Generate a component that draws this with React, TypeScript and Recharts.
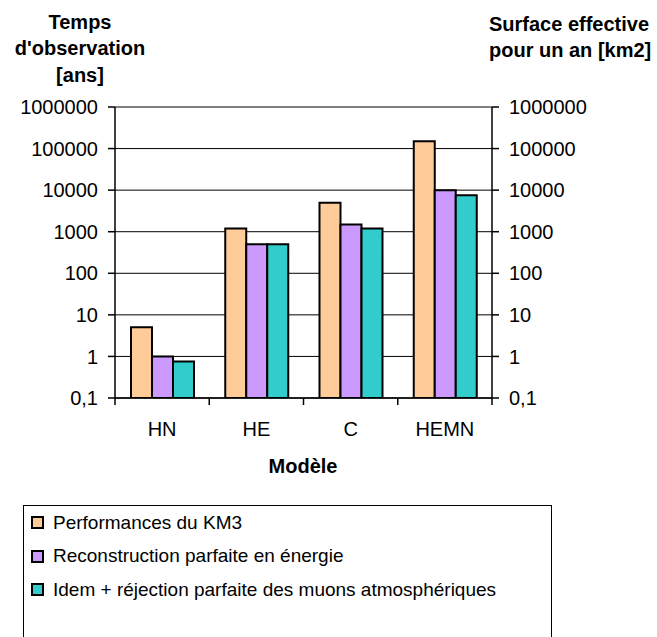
import React from "react";
import {
  BarChart,
  Bar,
  XAxis,
  YAxis,
  CartesianGrid,
  ReferenceLine,
  Legend,
} from "recharts";

const categories = ["HN", "HE", "C", "HEMN"];
const performances = [5, 1200, 5000, 150000];
const reconstruction = [1, 500, 1500, 10000];
const rejection = [0.75, 500, 1200, 7500];
const yTicks = [0.1, 1, 10, 100, 1000, 10000, 100000, 1000000];

const seriesNames = [
  "Performances du KM3",
  "Reconstruction parfaite en énergie",
  "Idem + réjection parfaite des muons atmosphériques",
];
const seriesColors = ["#FFCC99", "#CC99FF", "#33CCCC"];

const data = categories.map((name, i) => ({
  name,
  perf: performances[i],
  reco: reconstruction[i],
  rej: rejection[i],
}));

const FONT = '"Liberation Sans", Arial, sans-serif';
const PLOT_LEFT = 115;
const PLOT_RIGHT = 492;
const BAND = (PLOT_RIGHT - PLOT_LEFT) / categories.length;

const fmt = (v: number) => (v < 1 ? String(v).replace(".", ",") : String(v));

// category label plus the tick marks on the band boundaries
function CategoryTick(props: any) {
  const { x, y, payload, index } = props;
  const half = BAND / 2;
  const last = index === categories.length - 1;
  return (
    <g>
      <line x1={x - half} x2={x - half} y1={y} y2={y + 7} stroke="#000" strokeWidth={1.5} />
      {last && <line x1={x + half} x2={x + half} y1={y} y2={y + 7} stroke="#000" strokeWidth={1.5} />}
      <text x={x} y={y + 38} textAnchor="middle" fontSize={20} fill="#000" fontFamily={FONT}>
        {payload.value}
      </text>
    </g>
  );
}

function LegendBox() {
  return (
    <div
      style={{
        width: 529,
        height: 145,
        border: "1px solid #000",
        boxSizing: "border-box",
        background: "#fff",
        fontFamily: FONT,
        fontSize: 19,
        color: "#000",
      }}
    >
      {seriesNames.map((n, i) => (
        <div key={n} style={{ height: 33.5, display: "flex", alignItems: "center" }}>
          <span
            style={{
              display: "inline-block",
              width: 13,
              height: 13,
              boxSizing: "border-box",
              border: "2px solid #000",
              background: seriesColors[i],
              marginLeft: 7,
              marginRight: 9,
            }}
          />
          <span style={{ whiteSpace: "nowrap" }}>{n}</span>
        </div>
      ))}
    </div>
  );
}

const titleStyle: React.CSSProperties = {
  position: "absolute",
  fontFamily: FONT,
  fontWeight: "bold",
  fontSize: 20,
  lineHeight: "26.5px",
  textAlign: "center",
  color: "#000",
  whiteSpace: "nowrap",
};

export default function App() {
  return (
    <div style={{ position: "absolute", left: 0, top: 0, width: 657, height: 637, background: "#fff", overflow: "hidden" }}>
      <BarChart
        width={657}
        height={637}
        data={data}
        margin={{ top: 107, right: 65, left: 15, bottom: 169 }}
        barGap={0}
        barSize={21}
      >
        <CartesianGrid vertical={false} stroke="#000" strokeWidth={1} yAxisId="left" />
        <XAxis
          dataKey="name"
          height={70}
          axisLine={{ stroke: "#000", strokeWidth: 1.5 }}
          tickLine={false}
          tickSize={0}
          tickMargin={0}
          tick={<CategoryTick />}
          interval={0}
        />
        <YAxis
          yAxisId="left"
          orientation="left"
          scale="log"
          type="number"
          domain={[0.1, 1000000]}
          ticks={yTicks}
          allowDataOverflow
          interval={0}
          width={100}
          tickFormatter={fmt}
          tickSize={7}
          tickMargin={10}
          axisLine={{ stroke: "#000", strokeWidth: 1.5 }}
          tickLine={{ stroke: "#000", strokeWidth: 1.5 }}
          tick={{ fill: "#000", fontSize: 20, fontFamily: FONT }}
        />
        <YAxis
          yAxisId="right"
          orientation="right"
          scale="log"
          type="number"
          domain={[0.1, 1000000]}
          ticks={yTicks}
          allowDataOverflow
          interval={0}
          width={100}
          tickFormatter={fmt}
          tickSize={7}
          tickMargin={10}
          axisLine={{ stroke: "#000", strokeWidth: 1.5 }}
          tickLine={{ stroke: "#000", strokeWidth: 1.5 }}
          tick={{ fill: "#000", fontSize: 20, fontFamily: FONT, textAnchor: "start" }}
        />
        <ReferenceLine yAxisId="left" y={1000000} stroke="#808080" strokeWidth={2} />
        <Bar yAxisId="left" dataKey="perf" name={seriesNames[0]} fill={seriesColors[0]} stroke="#000" strokeWidth={2} isAnimationActive={false} />
        <Bar yAxisId="left" dataKey="reco" name={seriesNames[1]} fill={seriesColors[1]} stroke="#000" strokeWidth={2} isAnimationActive={false} />
        <Bar yAxisId="left" dataKey="rej" name={seriesNames[2]} fill={seriesColors[2]} stroke="#000" strokeWidth={2} isAnimationActive={false} />
        <Legend
          layout="vertical"
          align="center"
          verticalAlign="middle"
          content={() => <LegendBox />}
          wrapperStyle={{ left: 23, top: 505, width: 529, height: 145 }}
        />
      </BarChart>

      <div style={{ ...titleStyle, left: 0, width: 160, top: 8.5 }}>
        Temps
        <br />
        d'observation
        <br />
        [ans]
      </div>
      <div style={{ ...titleStyle, left: 489, width: 160, top: 10.5 }}>
        Surface effective
        <br />
        pour un an [km2]
      </div>
      <div style={{ ...titleStyle, left: 203, width: 200, top: 453 }}>Modèle</div>
    </div>
  );
}
